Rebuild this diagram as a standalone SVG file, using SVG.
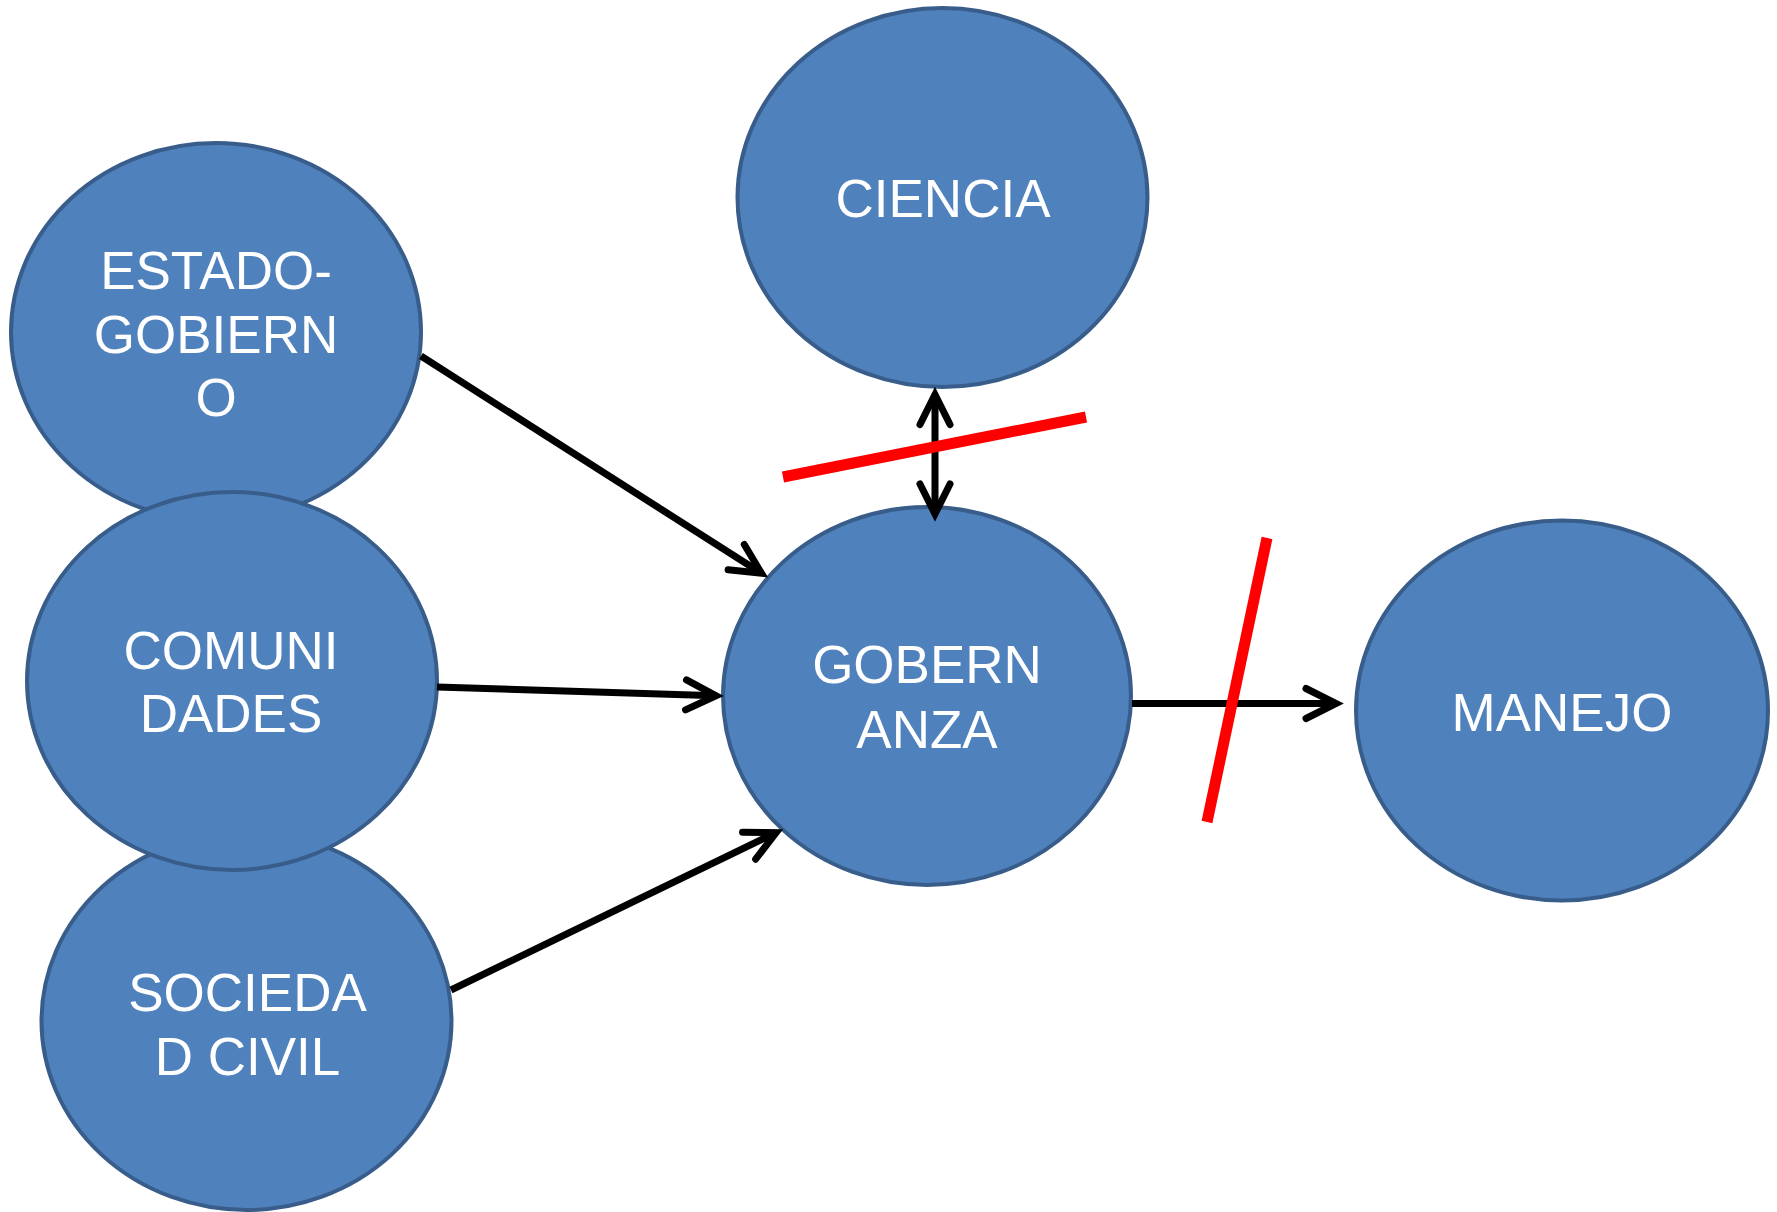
<svg xmlns="http://www.w3.org/2000/svg" width="1777" height="1212" viewBox="0 0 1777 1212">
<style>
.node ellipse{fill:#4F81BD;stroke:#385D8A;stroke-width:4}
.node text{fill:#FFFFFF;font-family:"Liberation Sans",Arial,sans-serif;font-size:53px;text-anchor:middle}
.conn{stroke:#000000;stroke-width:7;fill:none}
.cross{stroke:#FF0000;stroke-width:11;fill:none;stroke-linecap:butt}
</style>
<defs>
<marker id="arr" markerUnits="userSpaceOnUse" viewBox="-40 -25 50 50" refX="0" refY="0" markerWidth="50" markerHeight="50" orient="auto-start-reverse" overflow="visible">
<path d="M-30,-15 L0,0 L-30,15" fill="none" stroke="#000000" stroke-width="7" stroke-linecap="round" stroke-linejoin="miter"/>
</marker>
</defs>
<rect width="1777" height="1212" fill="#FFFFFF"/>
<g id="estado-gobierno" class="node">
<ellipse cx="216" cy="332" rx="205" ry="189"/>
<text x="216" y="289">ESTADO-</text>
<text x="216" y="353">GOBIERN</text>
<text x="216" y="416">O</text>
</g>
<g id="sociedad-civil" class="node">
<ellipse cx="246.5" cy="1021" rx="205" ry="189"/>
<text x="247.5" y="1011">SOCIEDA</text>
<text x="247.5" y="1075">D CIVIL</text>
</g>
<g id="comunidades" class="node">
<ellipse cx="232" cy="681" rx="205" ry="189"/>
<text x="231" y="669">COMUNI</text>
<text x="231" y="732">DADES</text>
</g>
<g id="ciencia" class="node">
<ellipse cx="942.5" cy="197.5" rx="205" ry="189.5"/>
<text x="943" y="217">CIENCIA</text>
</g>
<g id="gobernanza" class="node">
<ellipse cx="927" cy="696" rx="204" ry="189"/>
<text x="927" y="683">GOBERN</text>
<text x="927" y="748">ANZA</text>
</g>
<g id="manejo" class="node">
<ellipse cx="1562" cy="710.5" rx="206" ry="190"/>
<text x="1562" y="731">MANEJO</text>
</g>
<g id="connectors">
<line class="conn" x1="421" y1="356" x2="761.5" y2="573.3" marker-end="url(#arr)"/>
<line class="conn" x1="437" y1="687" x2="716" y2="695.8" marker-end="url(#arr)"/>
<line class="conn" x1="451" y1="990" x2="776.1" y2="832.6" marker-end="url(#arr)"/>
<line class="conn" x1="935" y1="394.5" x2="935" y2="514" marker-start="url(#arr)" marker-end="url(#arr)"/>
<line class="conn" x1="1132" y1="703.5" x2="1336" y2="703.5" marker-end="url(#arr)"/>
<line class="cross" x1="783" y1="477" x2="1086" y2="417"/>
<line class="cross" x1="1207" y1="822" x2="1267" y2="538"/>
</g>
</svg>
